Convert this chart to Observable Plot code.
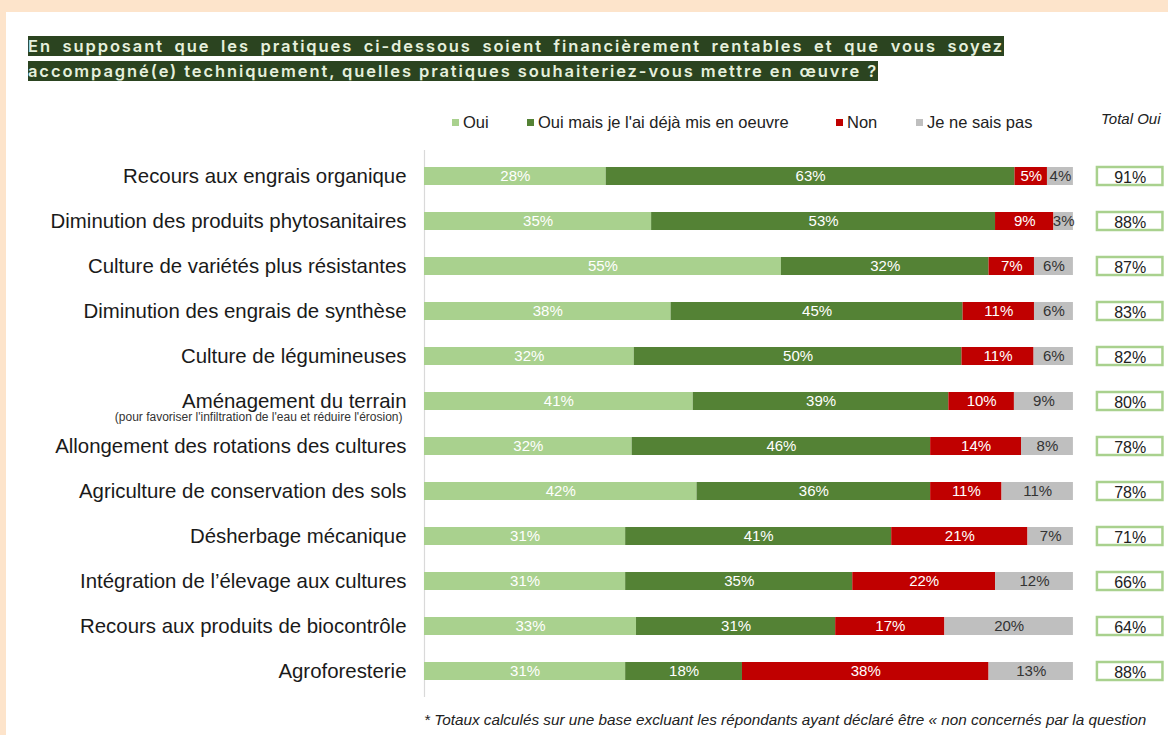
<!DOCTYPE html>
<html>
<head>
<meta charset="utf-8">
<script src="https://cdn.jsdelivr.net/npm/d3@7"></script>
<script src="https://cdn.jsdelivr.net/npm/@observablehq/plot@0.6"></script>
<style>
  html, body { margin: 0; padding: 0; }
  body { width: 1168px; height: 735px; background: #fde4cb; position: relative; overflow: hidden; font-family: "Liberation Sans", Arial, sans-serif; }
  #panel { position: absolute; left: 6px; top: 12px; width: 1170px; height: 740px; background: #fff; }
  #title { position: absolute; left: 28px; top: 34px; width: 976px; font-family: Inter, "Noto Sans", sans-serif; font-weight: 600; font-size: 16.5px; line-height: 25px; letter-spacing: 1.9px; color: #e6f0dd; text-align: justify; }
  #title span { background: #2b4420; }
  #legend { position: absolute; top: 113px; left: 452px; font-size: 16.5px; color: #222; white-space: nowrap; }
  #legend .item { position: absolute; top: 0; white-space: nowrap; }
  #legend .sw { display: inline-block; width: 7px; height: 7px; margin-right: 4px; vertical-align: 2px; }
  #totalHead { position: absolute; left: 1101px; top: 110px; font-size: 15px; font-style: italic; color: #222; white-space: nowrap; }
  #foot { position: absolute; left: 424px; top: 711px; font-size: 15.3px; font-style: italic; color: #222; white-space: nowrap; }
  #chart { position: absolute; left: 0; top: 100px; }
</style>
</head>
<body>
<div id="panel"></div>
<div id="title"><span>En supposant que les pratiques ci-dessous soient financièrement rentables et que vous soyez accompagné(e) techniquement, quelles pratiques souhaiteriez-vous mettre en œuvre ?</span></div>
<div id="legend"></div>
<div id="totalHead">Total Oui</div>
<div id="chart"></div>
<div id="foot">* Totaux calculés sur une base excluant les répondants ayant déclaré être « non concernés par la question</div>
<script>
const categories = [
  "Recours aux engrais organique",
  "Diminution des produits phytosanitaires",
  "Culture de variétés plus résistantes",
  "Diminution des engrais de synthèse",
  "Culture de légumineuses",
  "Aménagement du terrain",
  "Allongement des rotations des cultures",
  "Agriculture de conservation des sols",
  "Désherbage mécanique",
  "Intégration de l’élevage aux cultures",
  "Recours aux produits de biocontrôle",
  "Agroforesterie"
];
const subtitles = [
  {cat: "Aménagement du terrain", sub: "(pour favoriser l'infiltration de l'eau et réduire l'érosion)"}
];
const series = ["Oui", "Oui mais je l'ai déjà mis en oeuvre", "Non", "Je ne sais pas"];
const colors = ["#a9d18e", "#548235", "#c00000", "#bfbfbf"];
const labelColors = ["#ffffff", "#ffffff", "#ffffff", "#333333"];
const oui =      [28, 35, 55, 38, 32, 41, 32, 42, 31, 31, 33, 31];
const ouiMais =  [63, 53, 32, 45, 50, 39, 46, 36, 41, 35, 31, 18];
const non =      [5, 9, 7, 11, 11, 10, 14, 11, 21, 22, 17, 38];
const nsp =      [4, 3, 6, 6, 6, 9, 8, 11, 7, 12, 20, 13];
const totalOui = [91, 88, 87, 83, 82, 80, 78, 78, 71, 66, 64, 88];

// layout constants (data units of the x scale, where 1 = full bar)
const boxX1 = 1.037, boxX2 = 1.138;

const seriesValues = [oui, ouiMais, non, nsp];
const rows = [];
categories.forEach((cat, i) => {
  series.forEach((s, j) => rows.push({cat, series: s, value: seriesValues[j][i], j}));
});
const totals = categories.map((cat, i) => ({cat, total: totalOui[i]}));

// legend
const legend = document.getElementById("legend");
const legendLeft = [0, 75, 384, 464];
series.forEach((s, j) => {
  const d = document.createElement("div");
  d.className = "item";
  d.style.left = legendLeft[j] + "px";
  d.innerHTML = `<span class="sw" style="background:${colors[j]}"></span>${s}`;
  legend.appendChild(d);
});

const narrow = "'Liberation Sans Narrow', 'Arial Narrow', 'Liberation Sans', sans-serif";
const chart = Plot.plot({
  width: 1168,
  height: 635,
  marginLeft: 424,
  marginRight: 1,
  marginTop: 35,
  marginBottom: 23,
  style: {fontFamily: "'Liberation Sans', Arial, sans-serif", background: "transparent", color: "#1a1a1a"},
  x: {domain: [0, 1.145], axis: null},
  y: {domain: categories, padding: 0.6, label: null},
  color: {domain: series, range: colors},
  marks: [
    Plot.ruleX([0], {stroke: "#d9d9d9", strokeWidth: 1.2, insetTop: 15, insetBottom: 15}),
    Plot.barX(rows, Plot.stackX({x: "value", y: "cat", fill: "series", z: "series", offset: "normalize", order: null})),
    Plot.text(rows, Plot.stackX({x: "value", y: "cat", z: "series", offset: "normalize", order: null,
      text: d => d.value + "%", fill: d => labelColors[d.j], fontSize: 15})),
    Plot.barX(totals, {x1: boxX1, x2: boxX2, y: "cat", fill: "white", stroke: "#a9d18e", strokeWidth: 2.5}),
    Plot.text(totals, {x: (boxX1 + boxX2) / 2, y: "cat", text: d => d.total + "%", fontSize: 16, fontFamily: narrow, fill: "#222", dy: 1}),
    Plot.axisY({tickSize: 0, tickPadding: 18, fontSize: 20.4, label: null}),
    Plot.text(subtitles, {y: "cat", text: "sub", frameAnchor: "left", textAnchor: "end", dx: -22, dy: 16, fontSize: 12, fill: "#333"})
  ]
});
document.getElementById("chart").appendChild(chart);
</script>
</body>
</html>
